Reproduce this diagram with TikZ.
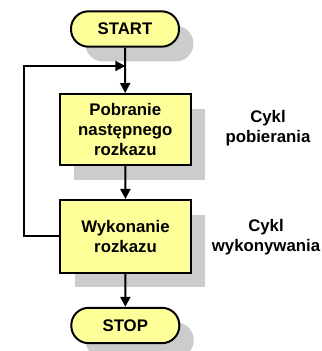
\documentclass[tikz,border=0pt]{standalone}
\usepackage{fontspec}
\setmainfont{Liberation Sans}
\usetikzlibrary{shadows,arrows.meta}
\definecolor{boxfill}{HTML}{FFFF99}
\definecolor{shadowgray}{HTML}{CCCCCC}
\tikzset{
  base/.style={draw=black, line width=1.5pt, fill=boxfill, align=center,
    font=\fontsize{12.6pt}{14.8pt}\selectfont\bfseries,
    drop shadow={shadow xshift=10.8pt, shadow yshift=-11pt, fill=shadowgray, opacity=1}},
  term/.style={base, rounded corners=13pt, minimum width=81pt, minimum height=26.5pt, inner sep=0pt},
  stepbox/.style={base, minimum width=98pt, inner sep=0pt},
  conn/.style={line width=1.5pt, -{Triangle[length=7.5pt,width=7.5pt]}},
  lbl/.style={align=center, font=\fontsize{12.6pt}{15pt}\selectfont\bfseries}
}
\begin{document}
\begin{tikzpicture}[x=0.75pt, y=-0.75pt]
\useasboundingbox (0,0) rectangle (322,351);
\node[term] (start) at (125,29) {START};
\node[stepbox, minimum height=53.25pt] (fetch) at (125.3,129.5) {Pobranie\\następnego\\rozkazu};
\node[stepbox, minimum height=54.5pt] (exec) at (125.5,236.3) {Wykonanie\\rozkazu};
\node[term] (stop) at (125.3,325.5) {STOP};
\node[lbl] (l1) at (268,128) {Cykl\\pobierania};
\node[lbl] (l2) at (266,237) {Cykl\\wykonywania};
\coordinate (join) at (125.3,66);
\coordinate (c1) at (24,236.3);
\coordinate (c2) at (24,66);
\draw[conn] (start) -- (fetch);
\draw[conn] (fetch) -- (exec);
\draw[conn] (exec) -- (stop);
\draw[conn] (exec.west) -- (c1) -- (c2) -- (join);
\end{tikzpicture}
\end{document}
